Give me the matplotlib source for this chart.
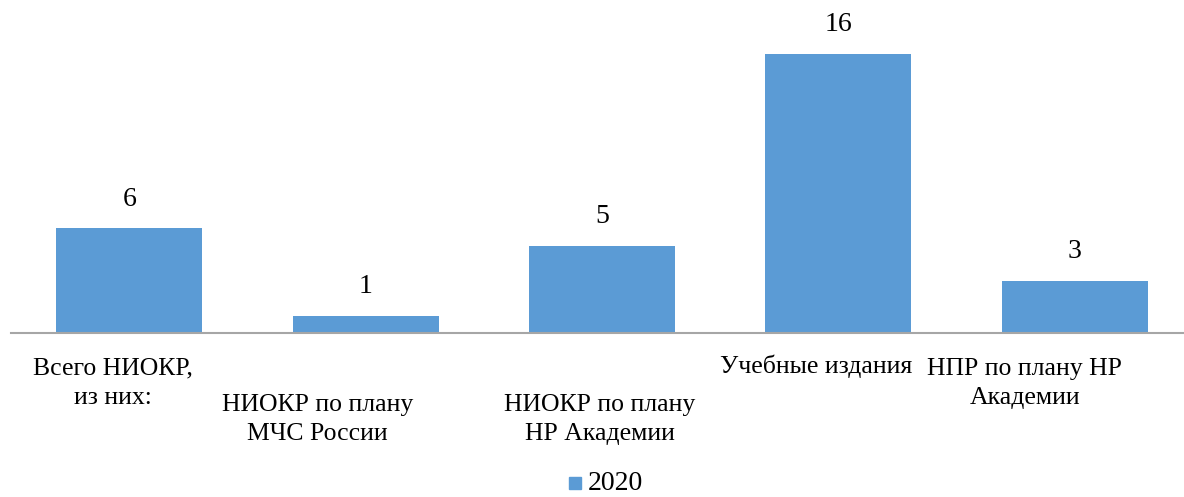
import matplotlib
matplotlib.use("Agg")
import matplotlib.pyplot as plt
from matplotlib.transforms import blended_transform_factory

categories = ["Всего НИОКР,\nиз них:", "НИОКР по плану\nМЧС России",
              "НИОКР по плану\nНР Академии", "Учебные издания",
              "НПР по плану НР\nАкадемии"]
values = [6, 1, 5, 16, 3]
series_name = "2020"

plt.rcParams['font.family'] = ['Liberation Serif', 'DejaVu Serif']
W, H = 1184, 497
fig = plt.figure(figsize=(W / 100, H / 100), dpi=100)

left_px, base_px = 11, 333
ax = fig.add_axes([left_px / W, 1 - base_px / H, 1 - left_px / W, base_px / H])
color = '#5B9BD5'
x = list(range(len(values)))
ax.bar(x, values, width=0.617, color=color, zorder=2)
ax.set_xlim(-0.5, 4.462)
ax.set_ylim(0, 19.1)
for s in ['top', 'right', 'left']:
    ax.spines[s].set_visible(False)
ax.spines['bottom'].set_color('#A6A6A6')
ax.spines['bottom'].set_linewidth(1.5)
ax.set_yticks([])
ax.set_xticks([])

for xi, v in zip(x, values):
    ax.annotate(str(v), (xi, v), xytext=(0, 21), textcoords='offset points',
                ha='center', va='center', fontsize=20)

# category labels (staggered like original); baseline of the last line in px
label_dx = [-0.068, -0.205, -0.01, -0.095, -0.211]
label_base = [404, 440, 440, 373, 404]
tr = blended_transform_factory(ax.transData, fig.transFigure)
for xi, lab, dx, lb in zip(x, categories, label_dx, label_base):
    ax.text(xi + dx, 1 - lb / H, lab, transform=tr, ha='center', va='baseline',
            fontsize=18.5, linespacing=1.42, multialignment='center')

# legend
fig.patches.append(plt.Rectangle((569 / W, 1 - 489 / H), 12 / W, 12 / H,
                                 transform=fig.transFigure, color=color))
fig.text(588 / W, 0.5 / H, series_name, ha='left', va='bottom', fontsize=20)

fig.savefig('out.png', dpi=100, facecolor='white')
